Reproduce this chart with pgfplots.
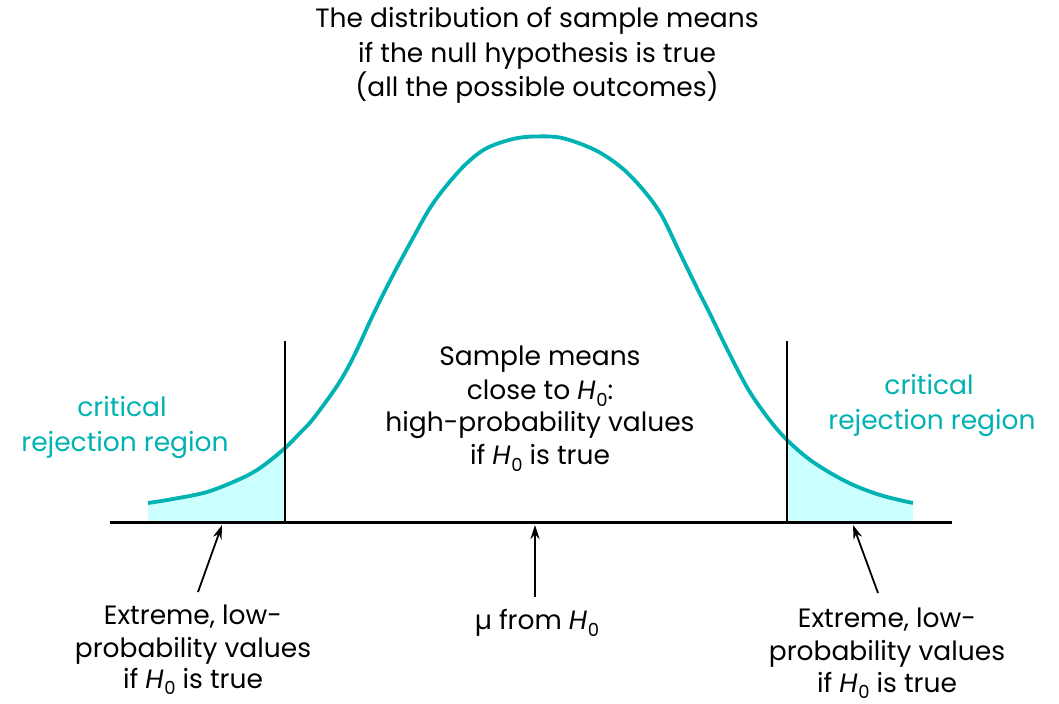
\documentclass[border=0pt]{standalone}
\usepackage{pgfplots}
\pgfplotsset{compat=1.18}
\usetikzlibrary{arrows.meta}
\usepackage{fontspec}
\setmainfont{Poppins}
\definecolor{tealc}{RGB}{0,178,178}
\definecolor{fillc}{RGB}{204,255,255}
\newcommand{\Hz}{\textit{H}\kern0.3pt\raisebox{-0.45ex}{\small 0}}
\begin{document}
\begin{tikzpicture}
\begin{axis}[name=ax, width=529.5bp, height=352bp, scale only axis,
  xmin=0, xmax=1059, ymin=0, ymax=704, hide axis, clip=false]
% shaded tails
\addplot[draw=none, fill=fillc] coordinates {(148,181.5)(148,201)(173,205)(190,208)(207,212)(224,218)(240,225)(260,236)(272,245)(284.5,255)(284.5,181.5)} -- cycle;
\addplot[draw=none, fill=fillc] coordinates {(787,181.5)(787,264)(800,253)(813,242)(830,231)(847,222)(863,215)(880,209)(897,204.5)(913,201)(913,181.5)} -- cycle;
% curve
\addplot[tealc, line width=1.9bp, smooth, tension=0.55] coordinates {
(148,201)(173,205)(207,212)(240,225)(260,236)(284,255)(300,271)(313,285)(337,318)(353,346)(373,389)(393,429)(413,466)(430,496)(447,519)(467,541)(487,556)(513,565)(535,567.5)(562,566)(595,554)(622,536)(645,512)(662,488)(678,455)(695,420)(712,386)(728,353)(748,315)(768,286)(787,264)(813,242)(847,222)(880,209)(913,201)};
% baseline
\addplot[black, line width=1.2bp] coordinates {(110,181.5)(952,181.5)};
% critical lines
\addplot[black, line width=1bp] coordinates {(284.5,181.5)(284.5,363)};
\addplot[black, line width=1bp] coordinates {(787,181.5)(787,363)};
% arrows
\addplot[black, line width=0.9bp, -{Stealth[length=7bp,width=4.5bp]}] coordinates {(198,112)(222,179)};
\addplot[black, line width=0.9bp, -{Stealth[length=7bp,width=4.5bp]}] coordinates {(535,107)(535,179)};
\addplot[black, line width=0.9bp, -{Stealth[length=7bp,width=4.5bp]}] coordinates {(878,111)(853,179)};
% texts
\begin{scope}[every node/.style={anchor=base, inner sep=0pt, font=\fontsize{13.3}{15}\selectfont}]
\node at (axis cs:537,676) {The distribution of sample means};
\node at (axis cs:537,641) {if the null hypothesis is true};
\node at (axis cs:537,607) {(all the possible outcomes)};
\node at (axis cs:540,338) {Sample means};
\node at (axis cs:540,304) {close to \Hz:};
\node at (axis cs:540,272) {high-probability values};
\node at (axis cs:540,239) {if \Hz\ is true};
\node[text=tealc] at (axis cs:122,287) {critical};
\node[text=tealc] at (axis cs:125,252) {rejection region};
\node[text=tealc] at (axis cs:929,309) {critical};
\node[text=tealc] at (axis cs:932,274) {rejection region};
\node at (axis cs:193,79) {Extreme, low-};
\node at (axis cs:193,47) {probability values};
\node at (axis cs:193,16) {if \Hz\ is true};
\node at (axis cs:887,76) {Extreme, low-};
\node at (axis cs:887,44) {probability values};
\node at (axis cs:887,12) {if \Hz\ is true};
\node at (axis cs:537,74) {µ from \Hz};
\end{scope}
\end{axis}
\pgfresetboundingbox
\path (ax.south west) rectangle (ax.north east);
\end{tikzpicture}
\end{document}
